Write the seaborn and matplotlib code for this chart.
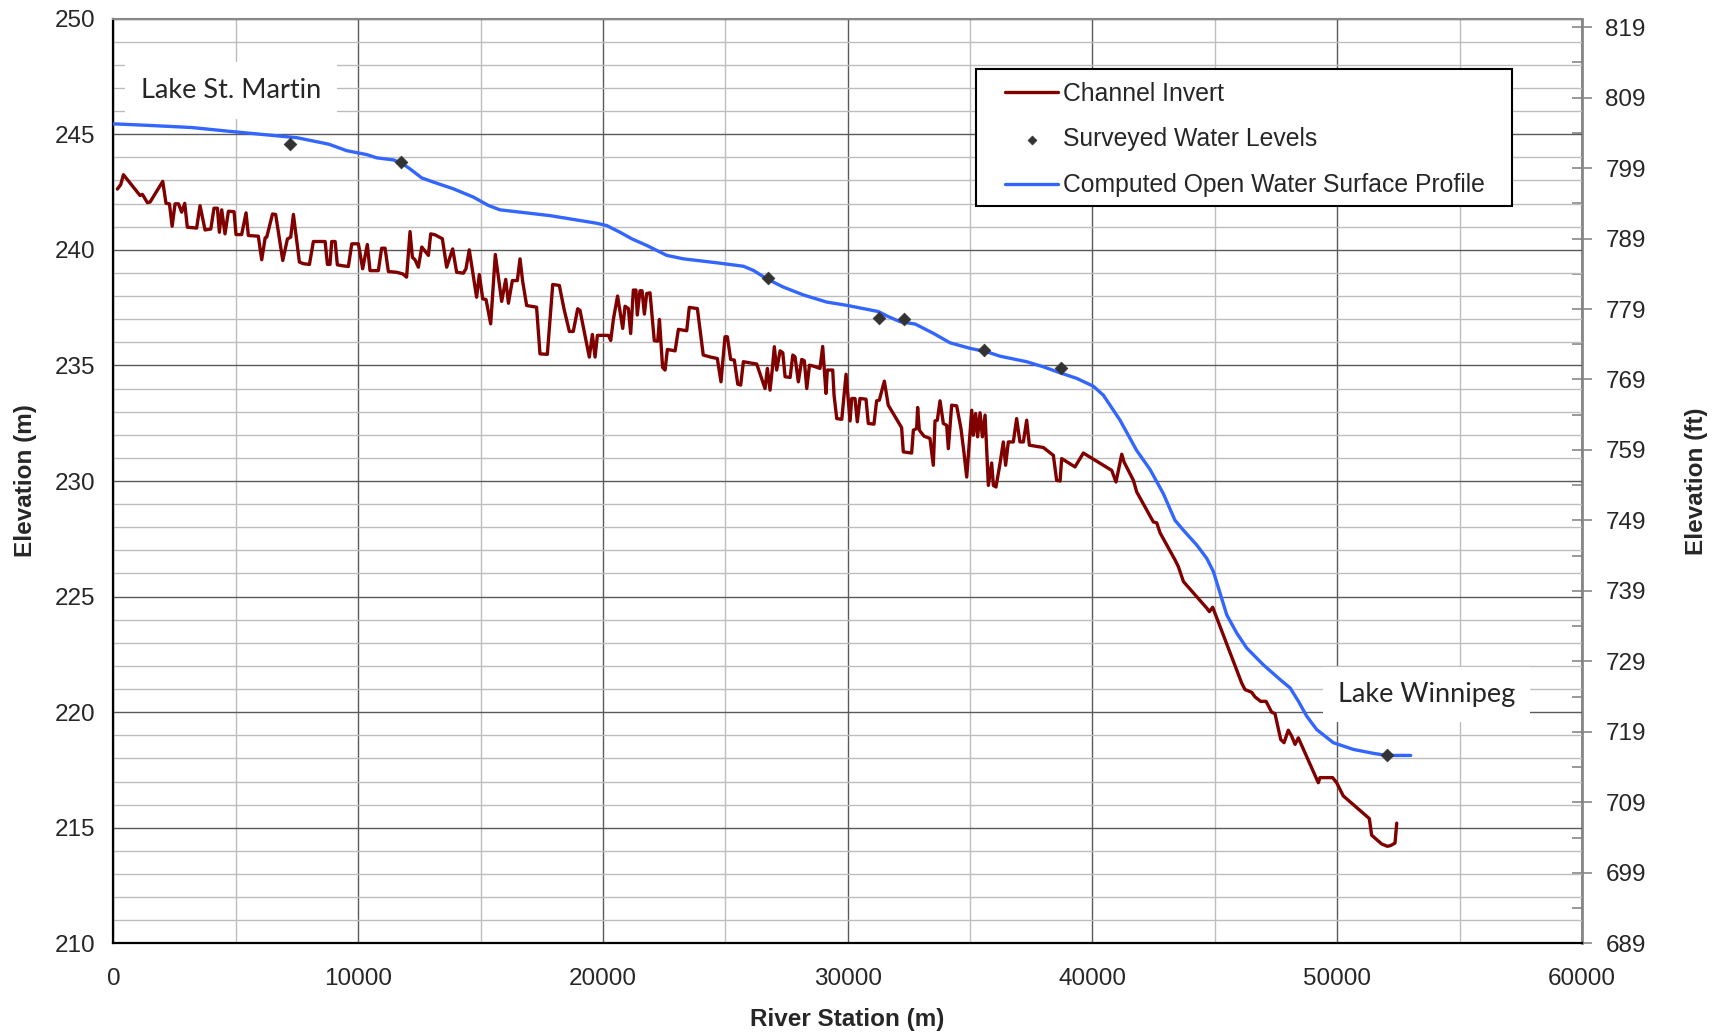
import numpy as np
import pandas as pd
import seaborn as sns
import matplotlib
matplotlib.use("Agg")
import matplotlib.pyplot as plt
from matplotlib.patches import Rectangle
from matplotlib.ticker import MultipleLocator, FixedLocator

# ---------------- data ----------------
invert_station = [163, 300, 409, 1090, 1185, 1390, 1500, 2016, 2150, 2290, 2400, 2520, 2660, 2790, 2915, 3020,
                  3400, 3540, 3745, 3980, 4110, 4250, 4330, 4425, 4560, 4700, 4930, 5010, 5240, 5420, 5515, 5920,
                  6060, 6200, 6265, 6500, 6630, 6920, 7110, 7245, 7355, 7600, 7765, 8010, 8170, 8650, 8745, 8850,
                  8920, 9060, 9150, 9370, 9600, 9740, 10010, 10185, 10375, 10485, 10825, 10960, 11100, 11235,
                  11575, 11820, 11980, 12120, 12215, 12325, 12460, 12600, 12870, 12966, 13140, 13440, 13617,
                  13862, 14025, 14300, 14405, 14540, 14840, 14950, 15090, 15225, 15415, 15605, 15865, 16030,
                  16140, 16300, 16505, 16614, 16720, 16885, 17290, 17430, 17730, 17950, 18220, 18410, 18630,
                  18790, 18970, 19065, 19445, 19570, 19680, 19775, 20225, 20320, 20430, 20600, 20810, 20905,
                  21040, 21135, 21245, 21350, 21405, 21515, 21600, 21695, 21790, 21925, 22100, 22240, 22310,
                  22440, 22540, 22635, 22950, 23085, 23425, 23530, 23860, 24100, 24440, 24675, 24825, 24990,
                  25085, 25220, 25370, 25510, 25630, 25740, 26285, 26625, 26720, 26830, 26925, 27005, 27100,
                  27240, 27350, 27445, 27650, 27760, 27850, 27985, 28125, 28230, 28330, 28440, 28600, 28870,
                  28980, 29115, 29170, 29390, 29445, 29555, 29760, 29935, 30100, 30165, 30300, 30395, 30505,
                  30750, 30845, 31075, 31185, 31295, 31500, 31660, 32205, 32275, 32615, 32685, 32820, 32860,
                  32930, 33120, 33365, 33500, 33570, 33665, 33775, 33910, 34045, 34115, 34250, 34455, 34630,
                  34755, 34865, 35070, 35135, 35230, 35310, 35410, 35505, 35615, 35750, 35885, 35955, 36060,
                  36225, 36360, 36455, 36565, 36770, 36905, 37040, 37180, 37315, 37425, 37995, 38405, 38540,
                  38680, 38745, 39290, 39630, 40790, 40965, 41200, 41295, 41675, 41810, 42490, 42630, 42765,
                  43380, 43515, 43720, 44675, 44780, 44915, 46100, 46235, 46510, 46645, 46875, 47095, 47325,
                  47460, 47695, 47830, 48005, 48140, 48280, 48415, 49230, 49300, 49815, 49980, 50250, 51315,
                  51410, 51820, 52050, 52185, 52365, 52435]
invert_elev = [242.63, 242.82, 243.25, 242.35, 242.4, 242.04, 242.07, 242.96, 242.01, 241.99, 241.02, 241.99,
               241.99, 241.63, 242.01, 240.98, 240.94, 241.91, 240.86, 240.9, 241.8, 241.8, 240.76, 241.73,
               240.69, 241.67, 241.65, 240.66, 240.66, 241.6, 240.62, 240.59, 239.57, 240.52, 240.55, 241.55,
               241.53, 239.54, 240.47, 240.55, 241.53, 239.47, 239.4, 239.37, 240.36, 240.36, 239.37, 239.37,
               240.36, 240.36, 239.35, 239.31, 239.28, 240.26, 240.26, 239.18, 240.23, 239.1, 239.1, 240.07,
               240.07, 239.06, 239.03, 238.96, 238.82, 240.79, 239.68, 239.57, 239.25, 240.12, 239.76, 240.69,
               240.65, 240.48, 239.25, 240.04, 239.03, 238.99, 239.18, 240.0, 237.95, 238.93, 237.88, 237.85,
               236.8, 239.8, 237.77, 238.72, 237.69, 238.67, 238.67, 239.61, 238.65, 237.59, 237.52, 235.5,
               235.48, 238.5, 238.46, 237.45, 236.47, 236.47, 237.45, 237.38, 235.36, 236.34, 235.36, 236.3,
               236.3, 236.08, 237.0, 238.0, 236.6, 237.56, 237.46, 236.38, 238.26, 238.26, 237.18, 238.23,
               238.23, 237.22, 238.11, 238.14, 236.07, 236.05, 236.99, 234.91, 234.8, 235.69, 235.63, 236.56,
               236.5, 237.51, 237.46, 235.45, 235.35, 235.3, 234.29, 236.24, 236.24, 235.26, 235.23, 234.19,
               234.15, 235.16, 235.06, 234.0, 234.87, 233.93, 234.87, 235.81, 234.8, 235.63, 235.55, 234.51,
               234.48, 235.45, 235.37, 234.29, 235.26, 235.2, 234.0, 235.01, 234.97, 234.87, 235.82, 233.79,
               234.8, 234.8, 233.71, 232.7, 232.67, 234.62, 232.6, 233.57, 233.57, 232.56, 233.57, 233.54,
               232.49, 232.46, 233.47, 233.5, 234.32, 233.28, 232.31, 231.26, 231.21, 232.2, 232.27, 233.18,
               232.2, 231.94, 231.84, 230.68, 232.6, 232.63, 233.47, 232.49, 232.41, 231.4, 233.28, 233.25,
               232.27, 231.21, 230.17, 233.06, 231.98, 232.92, 231.91, 232.95, 231.91, 232.85, 229.81, 230.78,
               229.81, 229.74, 230.75, 231.69, 230.68, 231.69, 231.69, 232.7, 231.69, 231.69, 232.63, 231.55,
               231.45, 231.11, 230.03, 230.0, 230.97, 230.61, 231.21, 230.46, 229.96, 231.16, 230.82, 230.03,
               229.53, 228.23, 228.19, 227.76, 226.58, 226.29, 225.65, 224.5, 224.35, 224.54, 221.26, 220.98,
               220.86, 220.66, 220.47, 220.47, 220.0, 219.94, 218.82, 218.68, 219.22, 218.97, 218.61, 218.89,
               216.95, 217.17, 217.17, 216.95, 216.38, 215.4, 214.68, 214.3, 214.2, 214.23, 214.34, 215.2]

wsp_station = [0, 1500, 3200, 4800, 6500, 7500, 8800, 9530, 10350, 10755, 11440, 11780, 12120, 12600, 13075,
               13890, 14710, 15320, 15795, 16610, 17835, 18650, 19745, 20155, 20700, 21175, 21790, 22610, 23290,
               24650, 25740, 26150, 26690, 27370, 28190, 29145, 29960, 31255, 31665, 32145, 32760, 33500, 34180,
               35000, 35680, 36225, 37315, 37995, 38680, 39360, 40040, 40450, 41130, 41810, 42355, 42900, 43375,
               43720, 44265, 44675, 44945, 45220, 45490, 45900, 46310, 46985, 47670, 48080, 48420, 48755, 49165,
               49845, 50665, 51480, 52025, 53005]
wsp_elev = [245.45, 245.38, 245.29, 245.12, 244.95, 244.85, 244.57, 244.29, 244.12, 243.98, 243.89, 243.75,
            243.5, 243.11, 242.93, 242.64, 242.28, 241.92, 241.73, 241.63, 241.48, 241.34, 241.15, 241.05,
            240.76, 240.48, 240.19, 239.76, 239.61, 239.44, 239.29, 239.11, 238.75, 238.39, 238.05, 237.74,
            237.6, 237.33, 237.11, 236.89, 236.79, 236.39, 235.98, 235.74, 235.59, 235.4, 235.16, 234.94,
            234.68, 234.44, 234.1, 233.71, 232.63, 231.32, 230.5, 229.45, 228.3, 227.87, 227.23, 226.65,
            226.08, 225.14, 224.21, 223.42, 222.77, 222.05, 221.41, 221.05, 220.47, 219.83, 219.25, 218.68,
            218.39, 218.22, 218.13, 218.13]

survey_station = [7200, 11760, 26730, 31300, 32300, 35560, 38700, 52025]
survey_elev = [244.57, 243.78, 238.77, 237.04, 236.99, 235.66, 234.87, 218.15]

x_ticks = [0, 10000, 20000, 30000, 40000, 50000, 60000]
y_ticks = [210, 215, 220, 225, 230, 235, 240, 245, 250]
ft_ticks = [689, 699, 709, 719, 729, 739, 749, 759, 769, 779, 789, 799, 809, 819]

label_invert = "Channel Invert"
label_survey = "Surveyed Water Levels"
label_wsp = "Computed Open Water Surface Profile"

# ---------------- plot ----------------
sns.set_style("white")
plt.rcParams["font.family"] = ["Liberation Sans", "DejaVu Sans"]

fig = plt.figure(figsize=(17.26, 10.36), dpi=100)
ax = fig.add_axes([0.0657, 0.0894, 0.9165 - 0.0657, 0.982 - 0.0894])

inv = pd.DataFrame({"station": invert_station, "elev": invert_elev})
wsp = pd.DataFrame({"station": wsp_station, "elev": wsp_elev})
sur = pd.DataFrame({"station": survey_station, "elev": survey_elev})

sns.lineplot(data=inv, x="station", y="elev", ax=ax, color="#800000", lw=2.4,
             estimator=None, sort=False, label=label_invert, zorder=3)
sns.scatterplot(data=sur, x="station", y="elev", ax=ax, color="#333333", marker="D", s=42,
                edgecolor="#333333", label=label_survey, zorder=5)
sns.lineplot(data=wsp, x="station", y="elev", ax=ax, color="#3366FF", lw=2.4,
             estimator=None, sort=False, label=label_wsp, zorder=4)

ax.set_xlim(0, 60000)
ax.set_ylim(210, 250)
ax.xaxis.set_major_locator(FixedLocator(x_ticks))
ax.yaxis.set_major_locator(FixedLocator(y_ticks))
ax.xaxis.set_minor_locator(MultipleLocator(5000))
ax.yaxis.set_minor_locator(MultipleLocator(1))
ax.set_xticklabels([str(v) for v in x_ticks])
ax.set_yticklabels([str(v) for v in y_ticks])
ax.set_axisbelow(True)
ax.grid(which="major", color="#5a5a5a", lw=1.0)
ax.grid(which="minor", color="#bdbdbd", lw=1.0)

ax.tick_params(axis="both", which="major", labelsize=17.5, direction="out", length=7,
               width=1.2, color="#555555", pad=6)
ax.tick_params(axis="x", which="major", pad=11)
ax.tick_params(axis="both", which="minor", length=0)
ax.tick_params(axis="y", right=False)

for side in ["left", "bottom"]:
    ax.spines[side].set_color("black")
    ax.spines[side].set_linewidth(1.6)
ax.spines["top"].set_color("#888888")
ax.spines["top"].set_linewidth(1.5)
ax.spines["right"].set_visible(False)

ax.set_xlabel("River Station (m)", fontsize=17.5, fontweight="bold", labelpad=13)
ax.set_ylabel("Elevation (m)", fontsize=17.5, fontweight="bold", labelpad=12.5)

# secondary axis in feet
m2ft = lambda m: m * 3.28084
ft2m = lambda f: f / 3.28084
ax2 = ax.secondary_yaxis("right", functions=(m2ft, ft2m))
ax2.yaxis.set_major_locator(FixedLocator(ft_ticks))
ax2.yaxis.set_minor_locator(FixedLocator([v + 5 for v in ft_ticks[:-1]]))
ax2.set_yticklabels([str(v) for v in ft_ticks])
ax2.tick_params(which="major", direction="inout", length=14, width=1.2, color="#888888",
                labelsize=17.5, pad=10)
ax2.tick_params(which="minor", direction="in", length=7, width=1.2, color="#888888")
ax2.spines["right"].set_color("#888888")
ax2.spines["right"].set_linewidth(2.0)
ax2.set_ylabel("Elevation (ft)", fontsize=17.5, fontweight="bold", labelpad=28)

# lake annotations
ax.text(4800, 246.9, "Lake St. Martin", fontsize=19.5, family=["Lato", "DejaVu Sans"],
        ha="center", va="center", zorder=6,
        bbox=dict(boxstyle="square,pad=0.6", facecolor="white", edgecolor="none"))
ax.text(53660, 220.77, "Lake Winnipeg", fontsize=19.5, family=["Lato", "DejaVu Sans"],
        ha="center", va="center", zorder=6,
        bbox=dict(boxstyle="square,pad=0.55", facecolor="white", edgecolor="none"))

# legend: white frame box + frameless legend entries
frame = Rectangle((0.5877, 0.7976), 0.9521 - 0.5877, 0.9452 - 0.7976, transform=ax.transAxes,
                  facecolor="white", edgecolor="black", lw=1.5, zorder=9)
ax.add_patch(frame)
leg = ax.legend(loc="upper left", bbox_to_anchor=(0.6072, 0.9318), borderaxespad=0,
                fontsize=17.8, frameon=False, handlelength=2.15, handletextpad=0.2,
                labelspacing=0.88, borderpad=0.0, markerscale=0.7)
leg.set_zorder(10)

fig.savefig("out.png", dpi=100)
